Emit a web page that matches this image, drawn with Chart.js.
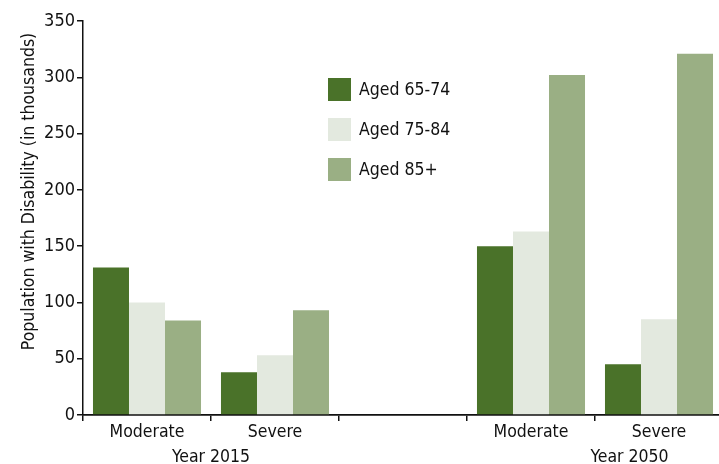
<!DOCTYPE html>
<html>
<head>
<meta charset="utf-8">
<script src="https://cdn.jsdelivr.net/npm/chart.js@4/dist/chart.umd.min.js"></script>
<style>
html,body{margin:0;padding:0;background:#ffffff;}
#wrap{position:relative;width:719px;height:464px;overflow:hidden;background:#fff;}
#c{position:absolute;left:0;top:0;}
#legend{position:absolute;left:328px;top:78px;}
.item{position:absolute;left:0;height:23px;white-space:nowrap;}
.box{position:absolute;left:0;top:0;width:23px;height:23px;}
.lbl{position:absolute;left:31px;top:0;line-height:23px;font-size:17.5px;font-family:"Liberation Sans Narrow","DejaVu Sans Condensed",sans-serif;color:#111;}
</style>
</head>
<body>
<div id="wrap">
<canvas id="c" width="724" height="464"></canvas>
<div id="legend"></div>
</div>
<script>
const categories = ["Moderate", "Severe", "", "Moderate", "Severe"];
const seriesNames = ["Aged 65-74", "Aged 75-84", "Aged 85+"];
const aged65to74 = [131, 38, null, 150, 45];
const aged75to84 = [100, 53, null, 163, 85];
const aged85plus = [84, 93, null, 302, 321];
const yearLabels = ["Year 2015", "Year 2050"];
const yTicks = [0, 50, 100, 150, 200, 250, 300, 350];
const yTitle = "Population with Disability (in thousands)";

const colors = ["#4a7229", "#e3e9df", "#9aaf84"];
const FONT = '"Liberation Sans Narrow", "DejaVu Sans Condensed", sans-serif';
const FS = 17.5;

const extraTextPlugin = {
  id: 'extraText',
  afterDraw(chart, args, opts) {
    const x = chart.scales.x;
    const area = chart.chartArea;
    const w = (x.right - x.left) / categories.length;
    const ctx = chart.ctx;
    ctx.save();
    ctx.font = FS + 'px ' + FONT;
    ctx.fillStyle = '#111';
    ctx.textAlign = 'center';
    ctx.textBaseline = 'alphabetic';
    yearLabels.forEach((t, i) => {
      ctx.fillText(t, x.left + opts.centers[i] * w, area.bottom + opts.offset);
    });
    // rotated y-axis title
    ctx.translate(opts.titleX, area.top + (area.bottom - area.top) * opts.titleFrac);
    ctx.rotate(-Math.PI / 2);
    ctx.textBaseline = 'middle';
    ctx.fillText(yTitle, 0, 0);
    ctx.restore();
  }
};

const seriesData = [aged65to74, aged75to84, aged85plus];

const chart = new Chart(document.getElementById('c'), {
  type: 'bar',
  data: {
    labels: categories,
    datasets: seriesNames.map((n, i) => ({
      label: n,
      data: seriesData[i],
      backgroundColor: colors[i],
      borderWidth: 0,
      categoryPercentage: 0.844,
      barPercentage: 1.0
    }))
  },
  options: {
    responsive: false,
    animation: false,
    devicePixelRatio: 1,
    layout: { padding: { top: 21, right: 1, bottom: 0, left: 0 } },
    plugins: {
      legend: { display: false },
      tooltip: { enabled: false },
      extraText: { centers: [1.0, 4.27], offset: 47, titleX: 29, titleFrac: 0.4327 }
    },
    scales: {
      x: {
        offset: true,
        grid: { display: true, drawOnChartArea: false, drawTicks: true, tickLength: 6, color: '#111', lineWidth: 1.5, offset: true },
        border: { display: true, color: '#111', width: 1.8 },
        ticks: { color: '#111', font: { family: FONT, size: FS }, padding: 1, maxRotation: 0, autoSkip: false },
        afterFit(s) { s.height = 49; }
      },
      y: {
        min: 0, max: 350,
        afterBuildTicks(s) { s.ticks = yTicks.map(v => ({ value: v })); },
        grid: { display: true, drawOnChartArea: false, drawTicks: true, tickLength: 6, color: '#111', lineWidth: 1.5 },
        border: { display: true, color: '#111', width: 1.5 },
        ticks: { color: '#111', font: { family: FONT, size: 18 }, padding: 2 },
        title: { display: false },
        afterFit(s) { s.width = 83; }
      }
    }
  },
  plugins: [extraTextPlugin]
});

const leg = document.getElementById('legend');
seriesNames.forEach((n, i) => {
  const it = document.createElement('div');
  it.className = 'item';
  it.style.top = (i * 40) + 'px';
  const b = document.createElement('div');
  b.className = 'box';
  b.style.background = colors[i];
  const l = document.createElement('div');
  l.className = 'lbl';
  l.textContent = n;
  it.appendChild(b); it.appendChild(l);
  leg.appendChild(it);
});
</script>
</body>
</html>
